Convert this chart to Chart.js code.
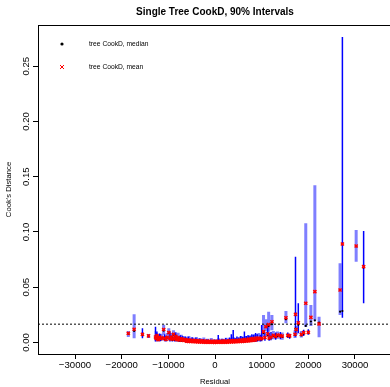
<!DOCTYPE html>
<html>
<head>
<meta charset="utf-8">
<title>Single Tree CookD, 90% Intervals</title>
<script src="https://cdn.jsdelivr.net/npm/chart.js@4.4.1/dist/chart.umd.min.js"></script>
<style>
  html, body { margin: 0; padding: 0; background: #fff; overflow: hidden; }
  canvas { display: block; }
</style>
</head>
<body>
<canvas id="cook" width="400" height="387"></canvas>
<script>
// ---- observations drawn with solid thin interval lines ----
const residA = [
  -15550, -14250, -12750, -12450, -11900, -11700, -10800, -10500, -9650, -9150, -8650, -8400, -7650, -7400, -6900, -6400,
  -6100, -5700, -5300, -4900, -4500, -4100, -3700, -3300, -2900, -2500,
  -2100, -1700, -1300, -900, -500, -100, 300, 700, 1100, 1500,
  1900, 2300, 2700, 3100, 3500, 3900, 4300, 4700, 5100, 5500,
  5900, 6300, 6700, 7100, 7500, 7900, 8300, 8700,
  9100, 9700, 10000, 10700, 11300, 11600, 12000, 13000, 14000, 15600, 16000, 17250, 17850, 19000, 20000, 27300, 31850
];
const medianA = [
  .0070, .0058, .0040, .0060, .0048, .0030, .0033, .0024, .0030, .0026, .0028, .0052, .0019, .0031, .0026, .0022,
  .0010, .0009, .0009, .0008, .0007, .0006, .0005, .0004, .0004, .0003,
  .0003, .0002, .0002, .0002, .0001, .0001, .0001, .0002, .0002, .0002,
  .0003, .0003, .0004, .0004, .0005, .0005, .0006, .0007, .0008, .0009,
  .0010, .0011, .0012, .0013, .0015, .0017, .0019, .0021,
  .0028, .0030, .0030, .0040, .0070, .0035, .0045, .0048, .0055, .0060, .0055, .0125, .0160, .0080, .0090, .0285, .0680
];
const meanA = [
  .0074, .0060, .0050, .0062, .0050, .0034, .0038, .0028, .0034, .0030, .0032, .0056, .0023, .0034, .0029, .0025,
  .0012, .0011, .0010, .0009, .0008, .0007, .0006, .0005, .0005, .0004,
  .0003, .0003, .0002, .0002, .0002, .0001, .0002, .0002, .0002, .0003,
  .0003, .0004, .0004, .0005, .0006, .0006, .0007, .0008, .0009, .0010,
  .0011, .0012, .0014, .0015, .0017, .0019, .0021, .0023,
  .0032, .0034, .0036, .0045, .0078, .0040, .0050, .0054, .0062, .0065, .0060, .0255, .0178, .0089, .0092, .0891, .0686
];
const lowerA = [
  .0038, .0042, .0010, .0030, .0020, .0012, .0012, .0008, .0010, .0008, .0010, .0016, .0006, .0010, .0008, .0007,
  .0003, .0003, .0003, .0002, .0002, .0002, .0001, .0001, .0001, .0001,
  .0001, .0000, .0000, .0000, .0000, .0000, .0000, .0000, .0000, .0000,
  .0001, .0001, .0001, .0001, .0001, .0002, .0002, .0002, .0002, .0003,
  .0003, .0003, .0004, .0004, .0005, .0005, .0006, .0007,
  .0010, .0010, .0012, .0015, .0055, .0015, .0020, .0025, .0030, .0040, .0035, .0052, .0083, .0060, .0070, .0225, .0355
];
const upperA = [
  .0128, .0075, .0143, .0092, .0082, .0075, .0075, .0062, .0098, .0070, .0072, .0092, .0060, .0065, .0058, .0054,
  .0040, .0052, .0035, .0048, .0030, .0042, .0028, .0036, .0025, .0032,
  .0022, .0030, .0020, .0026, .0018, .0024, .0020, .0068, .0025, .0035,
  .0028, .0040, .0030, .0045, .0075, .0113, .0040, .0055, .0045, .0060,
  .0050, .0100, .0058, .0065, .0060, .0075, .0070, .0085,
  .0075, .0070, .0158, .0090, .0158, .0085, .0095, .0090, .0095, .0090, .0080, .0776, .0355, .0115, .0120, .2765, .1009
];

// ---- observations drawn with wide translucent interval lines ----
const residB = [
  -18580, -17330, -12600, -12200, -11400, -11000, -10250, -9900, -9400, -8900, -8150, -7900, -7150, -6650,
  -5900, -5300, -4700, -4100, -3500, -2900, -2300, -1700, -1100, -500,
  100, 700, 1300, 1900, 2500, 3100, 3700, 4300, 4900, 5500,
  6100, 6700, 7300, 7900, 8500,
  -8800, -8000, -7200, -6400, -5600, -4800, -4000, -3200, -2400, -1600, -800, 0,
  800, 1600, 2400, 3200, 4000, 4800, 5600, 6400, 7200, 8000, 8800,
  9400, 10400, 10900, 11500, 12200, 12500, 13400, 14400, 15200, 17150, 17400, 18500, 19450, 20550, 21400, 22300, 26800, 30250
];
const medianB = [
  .0080, .0104, .0032, .0022, .0038, .0108, .0042, .0084, .0046, .0070, .0021, .0040, .0017, .0014,
  .0018, .0016, .0014, .0012, .0011, .0010, .0009, .0008, .0007, .0007,
  .0007, .0008, .0008, .0009, .0010, .0011, .0012, .0013, .0014, .0016,
  .0018, .0020, .0023, .0025, .0028,
  .0039, .0033, .0028, .0024, .0020, .0017, .0014, .0012, .0010, .0009, .0008, .0008,
  .0008, .0009, .0010, .0012, .0014, .0017, .0020, .0024, .0028, .0033, .0038,
  .0035, .0085, .0140, .0150, .0165, .0058, .0060, .0050, .0210, .0068, .0110, .0065, .0150, .0190, .0200, .0179, .0279, .0870
];
const meanB = [
  .0083, .0120, .0036, .0026, .0042, .0118, .0046, .0090, .0050, .0075, .0025, .0045, .0021, .0018,
  .0020, .0018, .0016, .0014, .0012, .0011, .0010, .0009, .0008, .0008,
  .0008, .0009, .0009, .0010, .0011, .0012, .0013, .0014, .0016, .0018,
  .0020, .0022, .0025, .0028, .0031,
  .0042, .0036, .0031, .0027, .0023, .0020, .0017, .0015, .0013, .0012, .0011, .0011,
  .0011, .0012, .0013, .0015, .0017, .0020, .0023, .0027, .0031, .0036, .0041,
  .0040, .0098, .0143, .0162, .0188, .0065, .0068, .0058, .0224, .0075, .0118, .0073, .0355, .0228, .0460, .0168, .0475, .0873
];
const lowerB = [
  .0050, .0038, .0012, .0008, .0015, .0070, .0018, .0040, .0020, .0030, .0007, .0012, .0005, .0004,
  .0006, .0005, .0004, .0004, .0003, .0003, .0003, .0002, .0002, .0002,
  .0002, .0002, .0002, .0003, .0003, .0003, .0004, .0004, .0005, .0005,
  .0006, .0007, .0008, .0009, .0010,
  .0015, .0013, .0011, .0010, .0008, .0007, .0006, .0005, .0004, .0004, .0003, .0003,
  .0003, .0004, .0004, .0005, .0006, .0007, .0008, .0010, .0011, .0013, .0015,
  .0012, .0055, .0100, .0098, .0110, .0030, .0035, .0025, .0174, .0040, .0070, .0045, .0140, .0150, .0200, .0047, .0249, .0731
];
const upperB = [
  .0104, .0255, .0105, .0070, .0080, .0160, .0085, .0128, .0086, .0112, .0066, .0088, .0052, .0048,
  .0050, .0045, .0042, .0038, .0036, .0032, .0030, .0028, .0026, .0025,
  .0025, .0027, .0028, .0030, .0032, .0035, .0038, .0040, .0045, .0048,
  .0052, .0058, .0062, .0068, .0075,
  .0080, .0065, .0070, .0055, .0060, .0045, .0050, .0040, .0045, .0035, .0040, .0030,
  .0038, .0034, .0042, .0040, .0048, .0046, .0058, .0055, .0066, .0064, .0078,
  .0085, .0249, .0210, .0279, .0250, .0105, .0100, .0090, .0285, .0110, .0150, .0105, .1080, .0340, .1423, .0233, .0717, .1018
];

// reference cutoff line, axis ranges and tick positions
const cutoff = 0.0166;
const xRange = [-37930, 37930];
const yRange = [-0.0104, 0.2873];
const xTicks = [-30000, -20000, -10000, 0, 10000, 20000, 30000];
const yTicks = [0, 0.05, 0.10, 0.15, 0.20, 0.25];
const legendLabels = ['tree CookD, median', 'tree CookD, mean'];

const FONT = "'Liberation Sans', Arial, Helvetica, sans-serif";

// vertical segments separated by gaps
function intervals(res, lo, hi) {
  const pts = [];
  res.forEach((x, i) => { pts.push({ x, y: lo[i] }, { x, y: hi[i] }, { x, y: null }); });
  return pts;
}
function marks(res, vals) { return res.map((x, i) => ({ x, y: vals[i] })); }

const fmtX = v => (v < 0 ? '\u2212' + Math.abs(v) : String(v));

// full box around the plotting region
const frame = {
  id: 'frame',
  afterDatasetsDraw(chart) {
    const { ctx, chartArea: a } = chart;
    ctx.save();
    ctx.strokeStyle = '#000';
    ctx.lineWidth = 1;
    ctx.strokeRect(Math.round(a.left) + 0.5, Math.round(a.top) + 0.5,
                   Math.round(a.right - a.left), Math.round(a.bottom - a.top));
    ctx.restore();
  }
};

// legend in the upper-left corner of the plotting region
const cornerLegend = {
  id: 'cornerLegend',
  afterDraw(chart) {
    const { ctx, chartArea: a } = chart;
    const sx = a.left + 24, tx = a.left + 51;
    const y1 = a.top + 19, y2 = a.top + 42;
    ctx.save();
    ctx.fillStyle = '#000';
    ctx.beginPath(); ctx.arc(sx, y1, 1.6, 0, Math.PI * 2); ctx.fill();
    ctx.strokeStyle = '#ff0000'; ctx.lineWidth = 1;
    ctx.beginPath();
    ctx.moveTo(sx - 2, y2 - 2); ctx.lineTo(sx + 2, y2 + 2);
    ctx.moveTo(sx + 2, y2 - 2); ctx.lineTo(sx - 2, y2 + 2);
    ctx.stroke();
    ctx.fillStyle = '#000';
    ctx.font = '6.7px ' + FONT;
    ctx.textBaseline = 'middle';
    ctx.textAlign = 'left';
    ctx.fillText(legendLabels[0], tx, y1);
    ctx.fillText(legendLabels[1], tx, y2);
    ctx.restore();
  }
};

const tickGrid = { drawOnChartArea: false, drawTicks: true, tickLength: 5, color: '#000', tickColor: '#000', lineWidth: 1 };

new Chart(document.getElementById('cook'), {
  type: 'scatter',
  data: {
    datasets: [
      { label: 'mean', data: marks(residA.concat(residB), meanA.concat(meanB)),
        pointStyle: 'crossRot', pointRadius: 2.2, borderColor: '#ff0000', borderWidth: 1.5, showLine: false },
      { label: 'median', data: marks(residA.concat(residB), medianA.concat(medianB)),
        pointStyle: 'circle', pointRadius: 1.1, backgroundColor: '#000', borderWidth: 0, showLine: false },
      { type: 'line', label: 'cutoff', data: [{ x: xRange[0], y: cutoff }, { x: xRange[1], y: cutoff }],
        borderColor: '#000', borderWidth: 1, borderDash: [2, 2], pointRadius: 0, fill: false },
      { type: 'line', label: 'interval A', data: intervals(residA, lowerA, upperA),
        borderColor: '#0000ff', borderWidth: 1.5, pointRadius: 0, spanGaps: false, fill: false },
      { type: 'line', label: 'interval B', data: intervals(residB, lowerB, upperB),
        borderColor: 'rgba(0,0,255,0.5)', borderWidth: 3, pointRadius: 0, spanGaps: false, fill: false }
    ]
  },
  options: {
    responsive: false,
    animation: false,
    devicePixelRatio: 1,
    layout: { padding: { left: 0, right: 8, top: 0, bottom: 0 } },
    plugins: {
      legend: { display: false },
      tooltip: { enabled: false },
      title: {
        display: true, text: 'Single Tree CookD, 90% Intervals', color: '#000', fullSize: false,
        font: { family: FONT, size: 10, weight: 'bold' }, padding: { top: 6, bottom: 7 }
      }
    },
    scales: {
      x: {
        type: 'linear', position: 'bottom', min: xRange[0], max: xRange[1],
        afterBuildTicks: s => { s.ticks = xTicks.map(v => ({ value: v })); },
        ticks: { autoSkip: false, minRotation: 0, maxRotation: 0,
                 color: '#000', font: { family: FONT, size: 9.6 }, padding: 1, callback: fmtX },
        grid: tickGrid,
        border: { display: false },
        title: { display: true, text: 'Residual', color: '#000', font: { family: FONT, size: 7.7 }, padding: { top: 0, bottom: 0 } },
        afterFit: s => { s.height = 33; }
      },
      y: {
        type: 'linear', position: 'left', min: yRange[0], max: yRange[1],
        afterBuildTicks: s => { s.ticks = yTicks.map(v => ({ value: v })); },
        ticks: { autoSkip: false, minRotation: 90, maxRotation: 90, crossAlign: 'center',
                 color: '#000', font: { family: FONT, size: 9.6 }, padding: -2.4, callback: v => v.toFixed(2) },
        grid: tickGrid,
        border: { display: false },
        title: { display: true, text: "Cook's Distance", color: '#000', font: { family: FONT, size: 7.7 }, padding: { top: 4, bottom: 0 } },
        afterFit: s => { s.width = 38; }
      }
    }
  },
  plugins: [frame, cornerLegend]
});
</script>
</body>
</html>
